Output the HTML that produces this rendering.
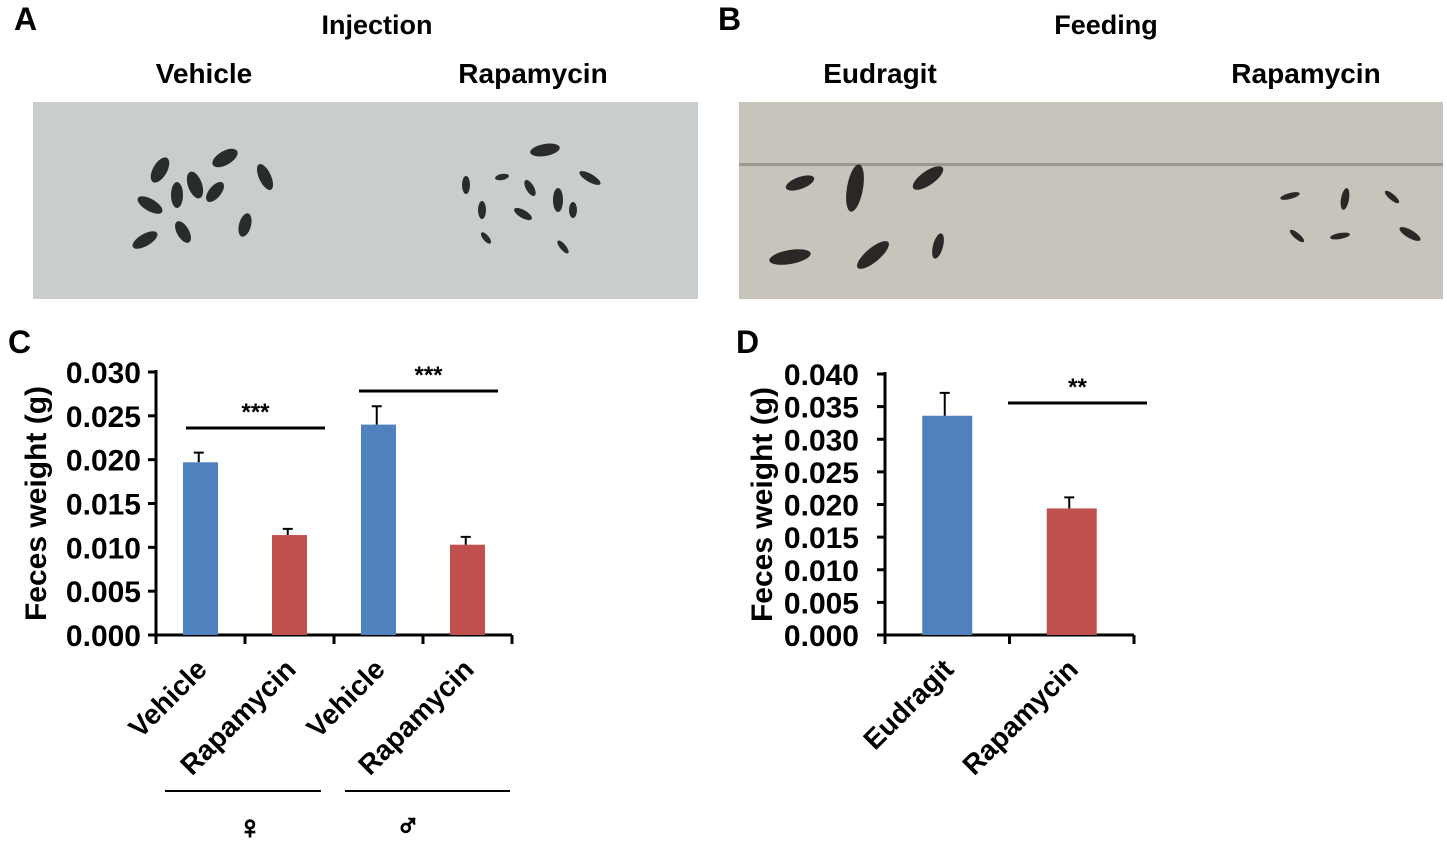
<!DOCTYPE html>
<html><head><meta charset="utf-8"><style>
body{margin:0;background:#fff;}
svg text{font-family:"Liberation Sans",Arial,sans-serif;font-weight:bold;fill:#000;}
</style></head><body>
<svg width="1447" height="848" xmlns="http://www.w3.org/2000/svg" id="fig">
<g>
<text x="14" y="30" font-size="32">A</text>
<text x="377" y="34" font-size="27" text-anchor="middle">Injection</text>
<text x="204" y="83" font-size="28" text-anchor="middle">Vehicle</text>
<text x="533" y="83" font-size="28" text-anchor="middle">Rapamycin</text>
<rect x="33" y="102" width="665" height="197" fill="#c9cdcc"/>
<g fill="#2a2c2c">
<ellipse cx="160" cy="170" rx="7" ry="14" transform="rotate(30 160 170)"/>
<ellipse cx="225" cy="158" rx="7" ry="14" transform="rotate(60 225 158)"/>
<ellipse cx="195" cy="185" rx="7" ry="14" transform="rotate(-20 195 185)"/>
<ellipse cx="177" cy="195" rx="6" ry="13"/>
<ellipse cx="265" cy="177" rx="6" ry="14" transform="rotate(-25 265 177)"/>
<ellipse cx="215" cy="192" rx="6" ry="12" transform="rotate(40 215 192)"/>
<ellipse cx="150" cy="205" rx="6" ry="14" transform="rotate(-60 150 205)"/>
<ellipse cx="245" cy="225" rx="6" ry="12" transform="rotate(15 245 225)"/>
<ellipse cx="183" cy="232" rx="6" ry="12" transform="rotate(-30 183 232)"/>
<ellipse cx="145" cy="240" rx="6" ry="14" transform="rotate(60 145 240)"/>
<ellipse cx="545" cy="150" rx="6" ry="15" transform="rotate(80 545 150)"/>
<ellipse cx="466" cy="185" rx="4" ry="9"/>
<ellipse cx="502" cy="177" rx="3" ry="7" transform="rotate(80 502 177)"/>
<ellipse cx="530" cy="188" rx="4" ry="9" transform="rotate(-30 530 188)"/>
<ellipse cx="558" cy="200" rx="5" ry="12"/>
<ellipse cx="590" cy="178" rx="4" ry="12" transform="rotate(-60 590 178)"/>
<ellipse cx="482" cy="210" rx="4" ry="9"/>
<ellipse cx="523" cy="214" rx="4" ry="10" transform="rotate(-60 523 214)"/>
<ellipse cx="573" cy="210" rx="4" ry="8"/>
<ellipse cx="486" cy="238" rx="3" ry="7" transform="rotate(-40 486 238)"/>
<ellipse cx="563" cy="247" rx="3" ry="8" transform="rotate(-40 563 247)"/>
</g>
</g>
<g>
<text x="718" y="30" font-size="32">B</text>
<text x="1106" y="34" font-size="27" text-anchor="middle">Feeding</text>
<text x="880" y="83" font-size="28" text-anchor="middle">Eudragit</text>
<text x="1306" y="83" font-size="28" text-anchor="middle">Rapamycin</text>
<rect x="739" y="102" width="704" height="197" fill="#c9c4bb"/>
<rect x="739" y="163" width="704" height="3" fill="#9c9890"/>
<g fill="#2a2826">
<ellipse cx="800" cy="183" rx="6" ry="15" transform="rotate(70 800 183)"/>
<ellipse cx="855" cy="188" rx="8" ry="24" transform="rotate(10 855 188)"/>
<ellipse cx="928" cy="178" rx="7" ry="18" transform="rotate(55 928 178)"/>
<ellipse cx="790" cy="257" rx="7" ry="21" transform="rotate(80 790 257)"/>
<ellipse cx="873" cy="255" rx="7" ry="20" transform="rotate(50 873 255)"/>
<ellipse cx="938" cy="246" rx="5" ry="13" transform="rotate(15 938 246)"/>
<ellipse cx="1290" cy="196" rx="3" ry="10" transform="rotate(75 1290 196)"/>
<ellipse cx="1345" cy="199" rx="4" ry="11" transform="rotate(10 1345 199)"/>
<ellipse cx="1392" cy="197" rx="3" ry="9" transform="rotate(-50 1392 197)"/>
<ellipse cx="1297" cy="236" rx="3" ry="9" transform="rotate(-50 1297 236)"/>
<ellipse cx="1340" cy="236" rx="3" ry="10" transform="rotate(80 1340 236)"/>
<ellipse cx="1410" cy="234" rx="4" ry="12" transform="rotate(-60 1410 234)"/>
</g>
</g>
<g id="chartC">
<text x="8" y="353" font-size="32">C</text>
</g>
<g id="chartD">
<text x="736" y="353" font-size="32">D</text>
</g>
</svg>
<script>
const cCategories=["Vehicle","Rapamycin","Vehicle","Rapamycin"];
const cValues=[0.0197,0.0114,0.0240,0.0103];
const cErrors=[0.0011,0.0007,0.0021,0.0009];
const cColors=["#4f81bd","#c0504d","#4f81bd","#c0504d"];
const cTicks=["0.000","0.005","0.010","0.015","0.020","0.025","0.030"];
const dCategories=["Eudragit","Rapamycin"];
const dValues=[0.0336,0.0194];
const dErrors=[0.0035,0.0017];
const dColors=["#4f81bd","#c0504d"];
const dTicks=["0.000","0.005","0.010","0.015","0.020","0.025","0.030","0.035","0.040"];
const NS="http://www.w3.org/2000/svg";
function mk(parent,tag,attrs,text){const e=document.createElementNS(NS,tag);for(const k in attrs)e.setAttribute(k,attrs[k]);if(text!==undefined)e.textContent=text;parent.appendChild(e);return e;}
function drawChart(g,o){
  const yS=v=>o.y0-(v/o.max)*(o.y0-o.y1);
  const step=(o.x1-o.x0)/o.cats.length;
  const ax=mk(g,"line",{x1:o.x0,y1:o.y1-2,x2:o.x0,y2:o.y0+2,stroke:"#000","stroke-width":3});
  
  
  const xa=mk(g,"line",{x1:o.x0-8,y1:o.y0,x2:o.x1,y2:o.y0,stroke:"#000","stroke-width":3});
  
  
  o.ticks.forEach(t=>{const y=yS(parseFloat(t));
    mk(g,"line",{x1:o.x0-8,y1:y,x2:o.x0,y2:y,stroke:"#000","stroke-width":3});
    const tl=mk(g,"text",{x:o.x0-o.tickOff,y:y+11,"font-size":30,"text-anchor":"end"},t);
    
    
  });
  for(let i=0;i<=o.cats.length;i++){const x=o.x0+i*step;mk(g,"line",{x1:x,y1:o.y0,x2:x,y2:o.y0+9,stroke:"#000","stroke-width":3});}
  const yt=mk(g,"text",{transform:`translate(${o.titleX},${(o.y0+o.y1)/2}) rotate(-90)`,"font-size":30,"text-anchor":"middle"},"Feces weight (g)");
  
  
  o.cats.forEach((c,i)=>{
    const cx=o.x0+(i+0.5)*step;const y=yS(o.vals[i]);
    const b=mk(g,"rect",{x:cx-o.bw/2,y:y,width:o.bw,height:o.y0-y,fill:o.colors[i]});
    
    
    const ye=yS(o.vals[i]+o.errs[i]);
    const ex=cx-o.bw/2+o.bw*0.45;
    const eb=mk(g,"path",{d:`M${ex},${y} V${ye} M${ex-5},${ye} H${ex+5}`,stroke:"#000","stroke-width":2,fill:"none"});
    
    
    const lx=cx+8,ly=o.y0+36;
    const lab=mk(g,"text",{transform:`translate(${lx},${ly}) rotate(-45)`,"font-size":28,"text-anchor":"end"},c);
    
    
  });
  o.sig.forEach(s=>{
    const l=mk(g,"line",{x1:s.xa,y1:s.y,x2:s.xb,y2:s.y,stroke:"#000","stroke-width":3});
    
    
    const t=mk(g,"text",{x:(s.xa+s.xb)/2,y:s.y-8,"font-size":24,"text-anchor":"middle"},s.t);
    
    
  });
}
drawChart(document.getElementById("chartC"),{x0:156,x1:512,y0:635,y1:372,max:0.030,bw:35,titleX:46,tickOff:15,
  cats:cCategories,vals:cValues,errs:cErrors,colors:cColors,ticks:cTicks,
  sig:[{xa:186,xb:325,y:428,t:"***"},{xa:359,xb:498,y:391,t:"***"}]});
drawChart(document.getElementById("chartD"),{x0:885,x1:1134,y0:635,y1:374,max:0.040,bw:50,titleX:772,tickOff:26,
  cats:dCategories,vals:dValues,errs:dErrors,colors:dColors,ticks:dTicks,
  sig:[{xa:1008,xb:1147,y:403,t:"**"}]});
const gc=document.getElementById("chartC");
const l1=mk(gc,"line",{x1:165,y1:791,x2:321,y2:791,stroke:"#000","stroke-width":2});


const l2=mk(gc,"line",{x1:345,y1:791,x2:510,y2:791,stroke:"#000","stroke-width":2});


const f=mk(gc,"text",{x:250,y:838,"font-size":32,"text-anchor":"middle","stroke":"#000","stroke-width":1.5},"♀");


const m=mk(gc,"text",{x:408,y:835,"font-size":32,"text-anchor":"middle","stroke":"#000","stroke-width":1.5},"♂");


</script>
</body></html>
